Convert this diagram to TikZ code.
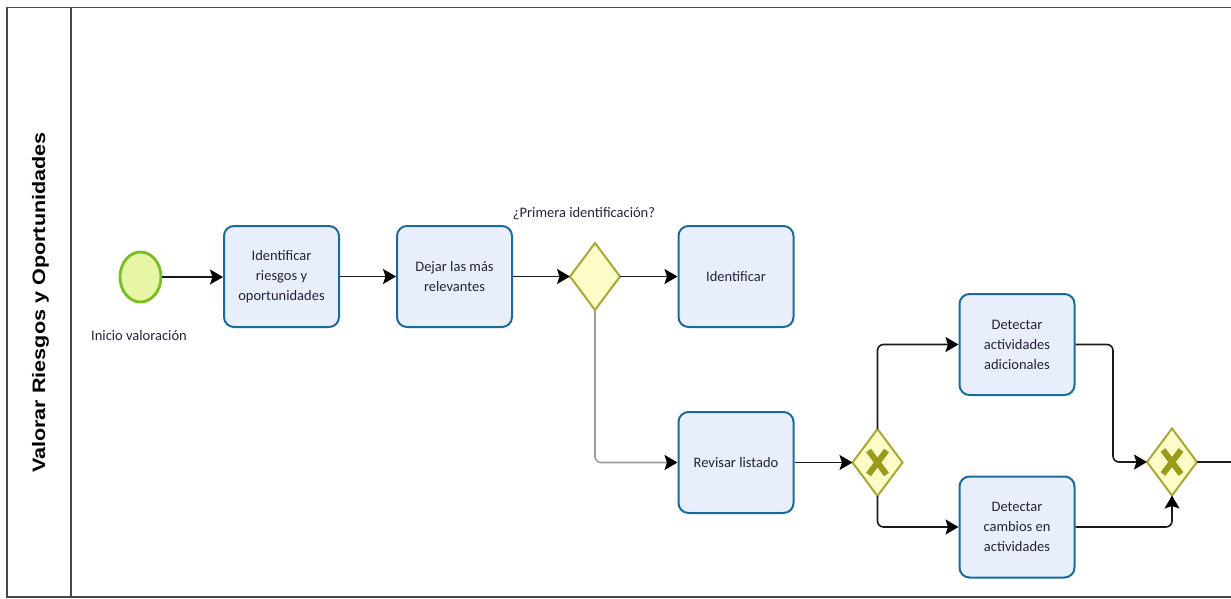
\documentclass[tikz,border=0pt]{standalone}
\usepackage{fontspec}
\setmainfont{Carlito}
\newfontfamily\lanefont{Liberation Sans}
\usetikzlibrary{arrows.meta,calc,shapes.geometric}

\definecolor{taskfill}{HTML}{E9EEFC}
\definecolor{taskline}{HTML}{1B6A9A}
\definecolor{gatefill}{HTML}{FCFCC6}
\definecolor{gateline}{HTML}{A8A838}
\definecolor{gatemark}{HTML}{9A9A1C}
\definecolor{startfill}{HTML}{E6F6A4}
\definecolor{startline}{HTML}{78BE20}
\definecolor{flowline}{HTML}{1A1A1A}
\definecolor{altline}{HTML}{9C9C9C}
\definecolor{frameline}{HTML}{474747}
\definecolor{labeltext}{HTML}{25233A}

\tikzset{
  task/.style={draw=taskline, fill=taskfill, line width=2pt, rounded corners=10pt,
    minimum width=115pt, minimum height=101pt, align=center, text=labeltext,
    font=\fontsize{14.5}{20}\selectfont, inner sep=2pt},
  gateway/.style={draw=gateline, fill=gatefill, line width=2pt},
  xmark/.style={draw=gatemark, line width=6pt},
  startev/.style={draw=startline, fill=startfill, line width=2.8pt, ellipse,
    minimum width=41pt, minimum height=50pt, inner sep=0pt},
  caption/.style={text=labeltext, font=\fontsize{14.5}{18}\selectfont, inner sep=0pt},
  flow/.style={draw=flowline, line width=1.6pt, rounded corners=6pt,
    -{Stealth[length=13pt,width=15pt,inset=2.5pt,color=black]}},
  altflow/.style={flow, draw=altline},
  plain/.style={draw=flowline, line width=1.6pt},
  frame/.style={draw=frameline, line width=1.6pt},
}

\begin{document}
\begin{tikzpicture}[x=1pt, y=-1pt]
\useasboundingbox (0,0) rectangle (1231,598);

% pool frame and lane header
\draw[frame] (1231,7.5) -- (6.8,7.5) -- (6.8,596.8) -- (1231,596.8);
\draw[frame] (70.7,7.5) -- (70.7,596.8);
\node[rotate=90, anchor=base, inner sep=0pt] (lane) at (45,302.5)
  {\scalebox{1.2}[1]{\lanefont\bfseries\fontsize{18}{20}\selectfont Valorar Riesgos y Oportunidades}};

% start event
\node[startev] (start) at (140.5,277) {};
\node[caption] (startlbl) at (139,336) {Inicio valoración};

% tasks
\node[task] (t1) at (281.5,276.5) {Identificar\\riesgos y\\oportunidades};
\node[task] (t2) at (454.5,276.5) {Dejar las más\\relevantes};
\node[task] (t3) at (736,276.5) {Identificar};
\node[task] (t4) at (736,462.5) {Revisar listado};
\node[task] (t5) at (1017,344.5) {Detectar\\actividades\\adicionales};
\node[task] (t6) at (1017,527) {Detectar\\cambios en\\actividades};

% gateways
\coordinate (g1) at (595,276.5);
\coordinate (g2) at (877.5,462.5);
\coordinate (g3) at (1172,462);
\foreach \g in {g1,g2,g3}{
  \draw[gateway] ($(\g)+(-25,0)$) coordinate (\g w) -- ($(\g)+(0,-33.5)$) coordinate (\g n)
    -- ($(\g)+(25,0)$) coordinate (\g e) -- ($(\g)+(0,33.5)$) coordinate (\g s) -- cycle;
}
\foreach \g in {g2,g3}{
  \draw[xmark] ($(\g)+(-9,-12)$) -- ($(\g)+(9,12)$);
  \draw[xmark] ($(\g)+(-9,12)$) -- ($(\g)+(9,-12)$);
}
\node[caption] (g1lbl) at (584,214) {¿Primera identificación?};

% sequence flows
\coordinate (c1) at (g1s |- t4.west);
\coordinate (c2) at (g2n |- t5.west);
\coordinate (c3) at (g2s |- t6.west);
\coordinate (c4) at (1113,344.5);
\coordinate (c5) at (c4 |- g3w);
\coordinate (c6) at (g3s |- t6.east);
\coordinate (endpt) at (1231,462);

\draw[flow] (start.east) -- (t1.west |- start.east);
\draw[flow] (t1.east) -- (t2.west);
\draw[flow] (t2.east) -- (g1w);
\draw[flow] (g1e) -- (t3.west);
\draw[altflow] (g1s) -- (c1) -- (t4.west);
\draw[flow] (t4.east) -- (g2w);
\draw[flow] (g2n) -- (c2) -- (t5.west);
\draw[flow] (g2s) -- (c3) -- (t6.west);
\draw[flow] (t5.east) -- (c4) -- (c5) -- (g3w);
\draw[flow] (t6.east) -- (c6) -- (g3s);
\draw[plain] (g3e) -- (endpt);
\end{tikzpicture}
\end{document}
